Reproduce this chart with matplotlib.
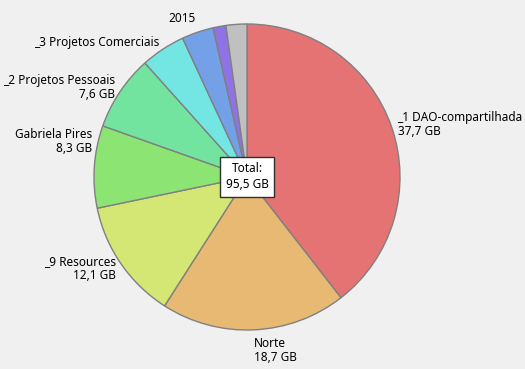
import numpy as np
import matplotlib
matplotlib.use('Agg')
import matplotlib.pyplot as plt

plt.rcParams['font.family'] = ['Noto Sans', 'DejaVu Sans']

names = ['_1 DAO-compartilhada', 'Norte', '_9 Resources', 'Gabriela Pires',
         '_2 Projetos Pessoais', '_3 Projetos Comerciais', '2015', '', '']
sizes = [37.7, 18.7, 12.1, 8.3, 7.6, 4.5, 3.2, 1.3, 2.1]
show_value = [True, True, True, True, True, False, False, False, False]
total = 95.5
colors = ['#e67373', '#e8b973', '#d4e673', '#8ce473', '#73e4a0',
          '#73e6e4', '#73a0e6', '#8f73e6', '#c0c0c0']

# nudges (degrees) for labels that were moved to avoid overlap
label_shift = {'Gabriela Pires': 9}

def fmt(v):
    return '{:.1f}'.format(v).replace('.', ',') + ' GB'

fig = plt.figure(figsize=(5.25, 3.69), dpi=100)
fig.patch.set_facecolor('#f0f0f0')
ax = fig.add_axes([0, 0, 1, 1])
ax.set_xlim(0, 525)
ax.set_ylim(0, 369)
ax.set_aspect('equal')
ax.axis('off')

cx, cy, R = 247, 192, 153
wedges, _ = ax.pie(sizes, colors=colors, startangle=90, counterclock=False,
                   radius=R, center=(cx, cy), frame=True,
                   wedgeprops=dict(edgecolor='#808080', linewidth=1.0))
ax.set_xlim(0, 525)
ax.set_ylim(0, 369)
ax.axis('off')

for w, name, v, sv in zip(wedges, names, sizes, show_value):
    if not name:
        continue
    mid = (w.theta1 + w.theta2) / 2 - label_shift.get(name, 0)
    x = np.cos(np.radians(mid))
    y = np.sin(np.radians(mid))
    ha = 'left' if x > 0 else 'right'
    if y < -0.9:
        va = 'top'
    elif y > 0.9:
        va = 'bottom'
    else:
        va = 'center'
    txt = name + ('\n' + fmt(v) if sv else '')
    ax.text(cx + 1.04 * R * x, cy + 1.05 * R * y, txt, ha=ha, va=va,
            fontsize=8.5, linespacing=1.1, color='black')

ax.text(cx, cy, 'Total:\n' + fmt(total), ha='center', va='center',
        fontsize=8.5, linespacing=1.3,
        bbox=dict(boxstyle='square,pad=0.5', facecolor='white',
                  edgecolor='#303030', linewidth=1.0))

fig.savefig('out.png', dpi=100, facecolor=fig.get_facecolor())
